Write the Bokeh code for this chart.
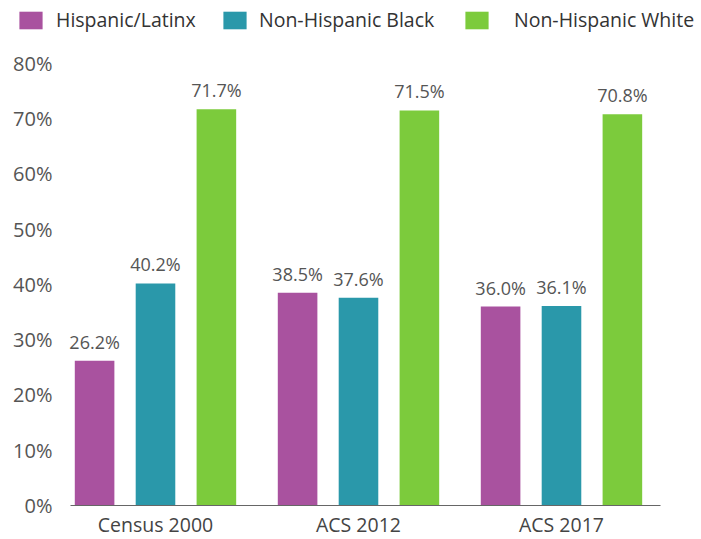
from bokeh.plotting import figure
from bokeh.models import ColumnDataSource, Range1d, FixedTicker, Legend, LegendItem
from bokeh.transform import dodge
from bokeh.core.properties import value
from bokeh.embed import file_html
from bokeh.resources import INLINE

categories = ["Census 2000", "ACS 2012", "ACS 2017"]
series_names = ["Hispanic/Latinx", "Non-Hispanic Black", "Non-Hispanic White"]
hispanic = [26.2, 38.5, 36.0]
black = [40.2, 37.6, 36.1]
white = [71.7, 71.5, 70.8]
y_ticks = [0, 10, 20, 30, 40, 50, 60, 70, 80]
colors = ["#A9529F", "#2A98AA", "#7CCB3C"]

FONT = "Open Sans"
idx = list(range(len(categories)))

X0, X1 = -0.7635, 2.6897          # full-width frame
AX_L, AX_R = -0.419, 2.488        # visible plot-area extent
p = figure(width=701, height=539, output_backend="svg", toolbar_location=None,
           x_range=Range1d(X0, X1), y_range=Range1d(-6.154, 91.4),
           min_border_left=0, min_border_right=0, min_border_top=0, min_border_bottom=0)
p.outline_line_color = None
p.xgrid.grid_line_color = None
p.ygrid.grid_line_color = None

series = [hispanic, black, white]
offsets = [-0.30, 0.0, 0.30]
bars = []
for vals, off, col in zip(series, offsets, colors):
    src = ColumnDataSource(dict(x=idx, top=vals,
                                label=["%.1f%%" % v for v in vals]))
    r = p.vbar(x=dodge("x", off, range=p.x_range), top="top", bottom=0, width=0.195,
               source=src, fill_color=col, line_color=None)
    bars.append(r)
    p.text(x=dodge("x", off, range=p.x_range), y="top", text="label", source=src,
           text_align="center", text_baseline="bottom", y_offset=-7,
           text_font=value(FONT), text_font_size="18px", text_color="#555555")

locs = [(16, 506), (220, 506), (462, 506)]
standoffs = [11, 10, 23]
for name, r, loc, so in zip(series_names, bars, locs, standoffs):
    lg = Legend(items=[LegendItem(label=name, renderers=[r])], location=loc,
                orientation="horizontal", padding=0, margin=0, spacing=0,
                glyph_width=29, glyph_height=22, label_standoff=so,
                label_text_font=FONT, label_text_font_size="19.5px",
                label_text_color="#333333", border_line_color=None,
                background_fill_alpha=0, label_height=22)
    p.add_layout(lg, "center")

p.yaxis.fixed_location = AX_L
p.yaxis.ticker = FixedTicker(ticks=y_ticks)
p.yaxis.major_label_overrides = {t: "%d%%" % t for t in y_ticks}
p.yaxis.axis_line_color = None
p.yaxis.major_tick_line_color = None
p.yaxis.minor_tick_line_color = None
p.yaxis.major_label_text_font = FONT
p.yaxis.major_label_text_font_size = "20px"
p.yaxis.major_label_text_color = "#555555"
p.yaxis.major_label_standoff = 12

p.xaxis.fixed_location = 0
p.xaxis.bounds = (AX_L, AX_R)
p.xaxis.ticker = FixedTicker(ticks=idx)
p.xaxis.major_label_overrides = {i: c for i, c in enumerate(categories)}
p.xaxis.axis_line_color = "#666666"
p.xaxis.axis_line_width = 1
p.xaxis.major_tick_line_color = None
p.xaxis.minor_tick_line_color = None
p.xaxis.major_label_text_font = FONT
p.xaxis.major_label_text_font_size = "19.5px"
p.xaxis.major_label_text_color = "#444444"
p.xaxis.major_label_standoff = 0

open("out.html", "w").write(file_html(p, INLINE))
